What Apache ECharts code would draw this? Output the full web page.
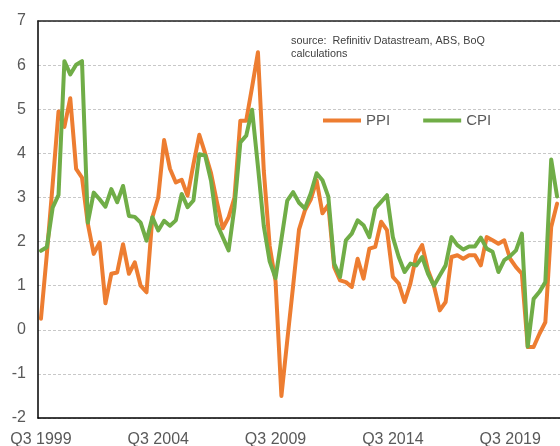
<!DOCTYPE html>
<html>
<head>
<meta charset="utf-8">
<script src="https://cdn.jsdelivr.net/npm/echarts@6/dist/echarts.min.js"></script>
<style>
  html, body { margin: 0; padding: 0; background: #fff; }
  #main { width: 560px; height: 446px; }
</style>
</head>
<body>
<div id="main"></div>
<script>
// quarterly, Q3 1999 .. Q3 2021
var quarters = [];
for (var y = 1999, q = 3; quarters.length < 89; ) {
  quarters.push('Q' + q + ' ' + y);
  q++;
  if (q > 4) { q = 1; y++; }
}

// annual % change
var ppi = [
  0.25, 1.7, 3.3, 4.95, 4.6, 5.25, 3.65, 3.45, 2.4, 1.72,
  1.98, 0.6, 1.27, 1.3, 1.94, 1.27, 1.53, 1.0, 0.85, 2.55,
  3.0, 4.3, 3.65, 3.34, 3.4, 3.04, 3.75, 4.42, 4.0, 3.55,
  2.9, 2.3, 2.55, 3.0, 4.74, 4.74, 5.5, 6.29, 3.6, 1.9,
  1.1, -1.5, -0.24, 1.0, 2.27, 2.7, 2.95, 3.39, 2.64, 2.83,
  1.42, 1.12, 1.08, 0.97, 1.61, 1.16, 1.84, 1.88, 2.45, 2.26,
  1.2, 1.05, 0.63, 1.05, 1.69, 1.92, 1.35, 1.0, 0.44, 0.63,
  1.65, 1.69, 1.61, 1.69, 1.69, 1.46, 2.1, 2.03, 1.95, 2.03,
  1.61, 1.42, 1.27, -0.39, -0.39, -0.09, 0.17, 2.33, 2.86
];
var cpi = [
  1.79, 1.87, 2.77, 3.06, 6.09, 5.79, 6.01, 6.09, 2.43, 3.11,
  2.96, 2.79, 3.19, 2.89, 3.26, 2.58, 2.56, 2.43, 2.02, 2.55,
  2.25, 2.47, 2.36, 2.48, 3.08, 2.78, 2.93, 3.98, 3.95, 3.38,
  2.4, 2.1, 1.8, 2.78, 4.25, 4.4, 4.99, 3.7, 2.35, 1.55,
  1.17, 2.05, 2.93, 3.12, 2.88, 2.75, 3.09, 3.55, 3.39, 3.02,
  1.5, 1.2, 2.03, 2.18, 2.48, 2.37, 2.1, 2.75, 2.9, 3.05,
  2.1, 1.65, 1.31, 1.5, 1.46, 1.65, 1.27, 1.0, 1.23, 1.46,
  2.1, 1.92, 1.82, 1.89, 1.89, 2.09, 1.84, 1.77, 1.31, 1.58,
  1.67, 1.8, 2.18, -0.38, 0.7, 0.86, 1.08, 3.86, 3.02
];

var chartDom = document.getElementById('main');
var myChart = echarts.init(chartDom);
var option;

var font = "'Liberation Sans', Arial, sans-serif";

option = {
  animation: false,
  textStyle: { fontFamily: font },
  title: {
    text: 'source:  Refinitiv Datastream, ABS, BoQ\ncalculations',
    left: 291,
    top: 35,
    padding: 0,
    textStyle: { fontSize: 10.8, fontWeight: 'normal', color: '#404040', lineHeight: 13, fontFamily: font }
  },
  legend: {
    left: 323,
    top: 113,
    padding: 0,
    icon: 'rect',
    itemWidth: 38,
    itemHeight: 4,
    itemGap: 33,
    textStyle: { fontSize: 15, color: '#595959', fontFamily: font },
    data: ['PPI', 'CPI']
  },
  grid: { left: 38, right: 0, top: 21, bottom: 28, outerBoundsMode: 'none' },
  xAxis: [
    {
      type: 'category',
      data: quarters,
      boundaryGap: true,
      axisLine: { onZero: false, lineStyle: { color: '#000', width: 1.5 } },
      axisTick: { show: false },
      axisLabel: { interval: 19, color: '#595959', fontSize: 16, margin: 14, fontFamily: font }
    },
    {
      type: 'category',
      position: 'top',
      data: quarters,
      axisLine: { onZero: false, lineStyle: { color: '#222', width: 1.5 } },
      axisTick: { show: false },
      axisLabel: { show: false }
    }
  ],
  yAxis: {
    type: 'value',
    min: -2,
    max: 7,
    interval: 1,
    axisLine: { show: true, lineStyle: { color: '#000', width: 1.5 } },
    axisTick: { show: false },
    axisLabel: { color: '#595959', fontSize: 16, margin: 12, fontFamily: font },
    splitLine: { lineStyle: { color: '#c8c8c8', type: [3, 2], width: 1 } }
  },
  series: [
    {
      name: 'PPI',
      type: 'line',
      data: ppi,
      showSymbol: false,
      color: '#ED7D31',
      lineStyle: { width: 4, join: 'round', cap: 'round' },
      z: 2
    },
    {
      name: 'CPI',
      type: 'line',
      data: cpi,
      showSymbol: false,
      color: '#70AD47',
      lineStyle: { width: 4, join: 'round', cap: 'round' },
      z: 3
    }
  ]
};

option && myChart.setOption(option);

window.addEventListener('resize', myChart.resize);
</script>
</body>
</html>
